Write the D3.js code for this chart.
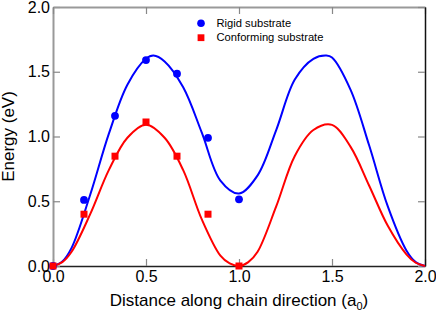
<!DOCTYPE html>
<html>
<head>
<meta charset="utf-8">
<script src="https://cdn.jsdelivr.net/npm/d3@7"></script>
<style>
  body { margin: 0; background: #fff; }
  text { font-family: "Liberation Sans", Arial, sans-serif; }
</style>
</head>
<body>
<svg></svg>
<script>
// DFT points (x in a0, energy in eV)
const pointX = [0, 1 / 6, 1 / 3, 0.5, 2 / 3, 5 / 6, 1.0];
const rigidPoints = [0, 0.51, 1.16, 1.59, 1.485, 0.99, 0.515];
const conformPoints = [0, 0.40, 0.848, 1.112, 0.848, 0.40, 0];

// fitted curves
const rigidCurveX = [0, 0.05, 0.1, 0.2, 0.3, 0.4, 0.5, 0.54, 0.6, 0.7, 0.8, 0.9, 1.0,
  1.1, 1.2, 1.3, 1.4, 1.47, 1.5, 1.6, 1.7, 1.8, 1.9, 1.95, 2.0];
const rigidCurve = [0, 0.035, 0.14, 0.55, 1.02, 1.40, 1.60, 1.625, 1.58, 1.38, 1.03, 0.66, 0.56,
  0.70, 1.05, 1.44, 1.60, 1.625, 1.61, 1.36, 0.93, 0.46, 0.12, 0.03, 0];
const conformCurveX = [0, 0.05, 0.1, 0.2, 0.3, 0.4, 0.5, 0.6, 0.7, 0.8, 0.9, 0.95, 1.0,
  1.05, 1.1, 1.2, 1.3, 1.4, 1.5, 1.6, 1.7, 1.8, 1.9, 1.95, 2.0];
const conformCurve = [0, 0.03, 0.11, 0.40, 0.74, 0.99, 1.09, 0.99, 0.74, 0.36, 0.08, 0.02, 0,
  0.03, 0.11, 0.46, 0.85, 1.05, 1.09, 0.92, 0.62, 0.31, 0.09, 0.025, 0];

const ticks = [0, 0.5, 1.0, 1.5, 2.0];
const legendNames = ['Rigid substrate', 'Conforming substrate'];

const width = 436;
const height = 314;
const margin = { top: 7, right: 11, bottom: 48, left: 53 };

const svg = d3.select('svg')
  .attr('width', width)
  .attr('height', height);

const x = d3.scaleLinear().domain([0, 2]).range([margin.left, width - margin.right]);
const y = d3.scaleLinear().domain([0, 2]).range([height - margin.bottom, margin.top]);

const fmt = d3.format('.1f');

// axes, ticks all point inwards
const axBottom = svg.append('g')
  .attr('transform', `translate(0,${y(0)})`)
  .call(d3.axisBottom(x).tickValues(ticks).tickSize(-7).tickSizeOuter(0).tickPadding(5).tickFormat(fmt));
const axLeft = svg.append('g')
  .attr('transform', `translate(${x(0)},0)`)
  .call(d3.axisLeft(y).tickValues(ticks).tickSize(-7).tickSizeOuter(0).tickPadding(3).tickFormat(fmt));
const axTop = svg.append('g')
  .attr('transform', `translate(0,${y(2)})`)
  .call(d3.axisTop(x).tickValues(ticks).tickSize(-7).tickSizeOuter(0).tickFormat(''));
const axRight = svg.append('g')
  .attr('transform', `translate(${x(2)},0)`)
  .call(d3.axisRight(y).tickValues(ticks).tickSize(-7).tickSizeOuter(0).tickFormat(''));

[axBottom, axLeft, axTop, axRight].forEach(g => {
  g.selectAll('.tick line').attr('stroke', '#888').attr('stroke-width', 1.2);
  g.selectAll('.tick text').attr('fill', '#000').style('font-size', '16px');
});
axLeft.select('.domain').attr('stroke', '#999').attr('stroke-width', 2);
axTop.select('.domain').attr('stroke', '#999').attr('stroke-width', 2);
axRight.select('.domain').attr('stroke', '#111').attr('stroke-width', 1.5);
axBottom.select('.domain').attr('stroke', '#222').attr('stroke-width', 1.5);

// axis titles
const xt = svg.append('text')
  .attr('x', (x(0) + x(2)) / 2)
  .attr('y', 305.5)
  .attr('text-anchor', 'middle')
  .style('font-size', '17px');
xt.append('tspan').text('Distance along chain direction (a');
xt.append('tspan').attr('dy', 4).style('font-size', '11px').text('0');
xt.append('tspan').attr('dy', -4).text(')');

svg.append('text')
  .attr('transform', `translate(13.5,${(y(0) + y(2)) / 2}) rotate(-90)`)
  .attr('text-anchor', 'middle')
  .style('font-size', '17px')
  .text('Energy (eV)');

// curves
const line = d3.line()
  .x(d => x(d[0]))
  .y(d => y(d[1]))
  .curve(d3.curveCatmullRom.alpha(0.5));

svg.append('path')
  .datum(d3.zip(rigidCurveX, rigidCurve))
  .attr('d', line)
  .attr('fill', 'none')
  .attr('stroke', '#0000ff')
  .attr('stroke-width', 2);

svg.append('path')
  .datum(d3.zip(conformCurveX, conformCurve))
  .attr('d', line)
  .attr('fill', 'none')
  .attr('stroke', '#ff0000')
  .attr('stroke-width', 2);

// data points
svg.append('g')
  .selectAll('circle')
  .data(d3.zip(pointX, rigidPoints))
  .enter()
  .append('circle')
  .attr('cx', d => x(d[0]))
  .attr('cy', d => y(d[1]))
  .attr('r', 3.9)
  .attr('fill', '#0000ff');

const sq = 7;
svg.append('g')
  .selectAll('rect')
  .data(d3.zip(pointX, conformPoints))
  .enter()
  .append('rect')
  .attr('x', d => x(d[0]) - sq / 2)
  .attr('y', d => y(d[1]) - sq / 2)
  .attr('width', sq)
  .attr('height', sq)
  .attr('fill', '#ff0000');

// legend
const lg = svg.append('g').attr('transform', 'translate(201,23.3)');
lg.append('circle').attr('r', 3.8).attr('fill', '#0000ff');
lg.append('rect').attr('x', -3.4).attr('y', 14.4 - 3.4).attr('width', 6.8).attr('height', 6.8).attr('fill', '#ff0000');
lg.selectAll('text')
  .data(legendNames)
  .enter()
  .append('text')
  .attr('x', 15.5)
  .attr('y', (d, i) => 3.7 + i * 14)
  .style('font-size', '11.2px')
  .text(d => d);
</script>
</body>
</html>
